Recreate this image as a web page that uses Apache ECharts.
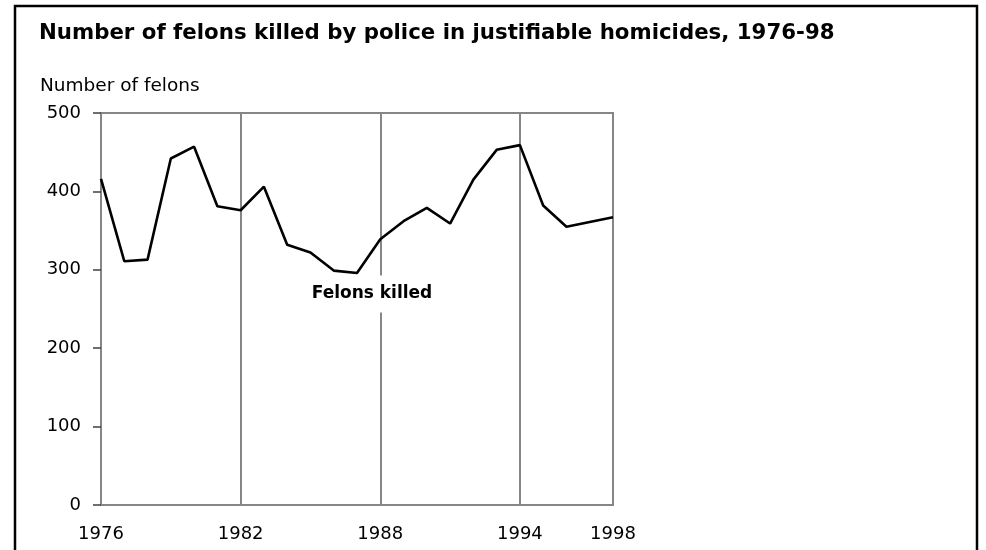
<!DOCTYPE html>
<html>
<head>
<meta charset="utf-8">
<script src="https://cdn.jsdelivr.net/npm/echarts@6/dist/echarts.min.js"></script>
<style>
  html, body { margin: 0; padding: 0; background: #fff; }
  #main { width: 986px; height: 550px; }
</style>
</head>
<body>
<div id="main"></div>
<script>
// years on the x axis, one point per year
var years = ['1976','1977','1978','1979','1980','1981','1982','1983','1984','1985','1986','1987',
             '1988','1989','1990','1991','1992','1993','1994','1995','1996','1997','1998'];
// felons killed by police
var felonsKilled = [416, 311, 313, 442, 457, 381, 376, 406, 332, 322, 299, 296,
                    339, 362, 379, 359, 415, 453, 459, 382, 355, 361, 367];
var yTicks = [0, 100, 200, 300, 400, 500];
// years that get a label under the axis
var labelYears = ['1976','1982','1988','1994','1998'];

var gray = '#868686';
var font = 'DejaVu Sans';

var chart = echarts.init(document.getElementById('main'));

var option = {
    animation: false,
    grid: {
        left: 101,
        top: 113,
        width: 512,
        height: 392,
        show: true,
        borderColor: gray,
        borderWidth: 2,
        backgroundColor: 'transparent'
    },
    xAxis: {
        type: 'category',
        data: years,
        boundaryGap: false,
        axisLine: { lineStyle: { color: gray, width: 2 } },
        axisTick: { show: false },
        axisLabel: {
            interval: function (idx, val) { return labelYears.indexOf(val) >= 0; },
            margin: 20,
            color: '#000',
            fontFamily: font,
            fontSize: 18
        },
        splitLine: {
            show: true,
            interval: function (idx) { return idx % 6 === 0; },
            lineStyle: { color: gray, width: 2 }
        }
    },
    yAxis: {
        type: 'value',
        min: yTicks[0],
        max: yTicks[yTicks.length - 1],
        interval: 100,
        axisLine: { show: true, lineStyle: { color: gray, width: 2 } },
        axisTick: { show: true, length: 8, lineStyle: { color: '#404040', width: 1.5 } },
        axisLabel: {
            margin: 20,
            color: '#000',
            fontFamily: font,
            fontSize: 18
        },
        splitLine: { show: false }
    },
    series: [
        {
            name: 'Felons killed',
            type: 'line',
            data: felonsKilled,
            symbol: 'none',
            z: 5,
            lineStyle: { color: '#000', width: 2.6 }
        }
    ],
    graphic: [
        {
            // outer frame
            type: 'rect',
            shape: { x: 15, y: 6, width: 962, height: 570 },
            style: { fill: 'none', stroke: '#000', lineWidth: 2.5 },
            z: 100
        },
        {
            type: 'text',
            x: 39,
            y: 33,
            style: {
                text: 'Number of felons killed by police in justifiable homicides, 1976-98',
                font: 'bold 21.3px "DejaVu Sans"',
                fill: '#000',
                verticalAlign: 'middle'
            }
        },
        {
            type: 'text',
            x: 40,
            y: 86,
            style: {
                text: 'Number of felons',
                font: '18.5px "DejaVu Sans"',
                fill: '#000',
                verticalAlign: 'middle'
            }
        },
        {
            // series label sits on a white box that hides the 1988 gridline
            type: 'text',
            x: 372,
            y: 294,
            z: 10,
            style: {
                text: 'Felons killed',
                font: 'bold 17px "DejaVu Sans"',
                fill: '#000',
                align: 'center',
                verticalAlign: 'middle',
                backgroundColor: '#fff',
                padding: [10, 2]
            }
        }
    ]
};

chart.setOption(option);
</script>
</body>
</html>
